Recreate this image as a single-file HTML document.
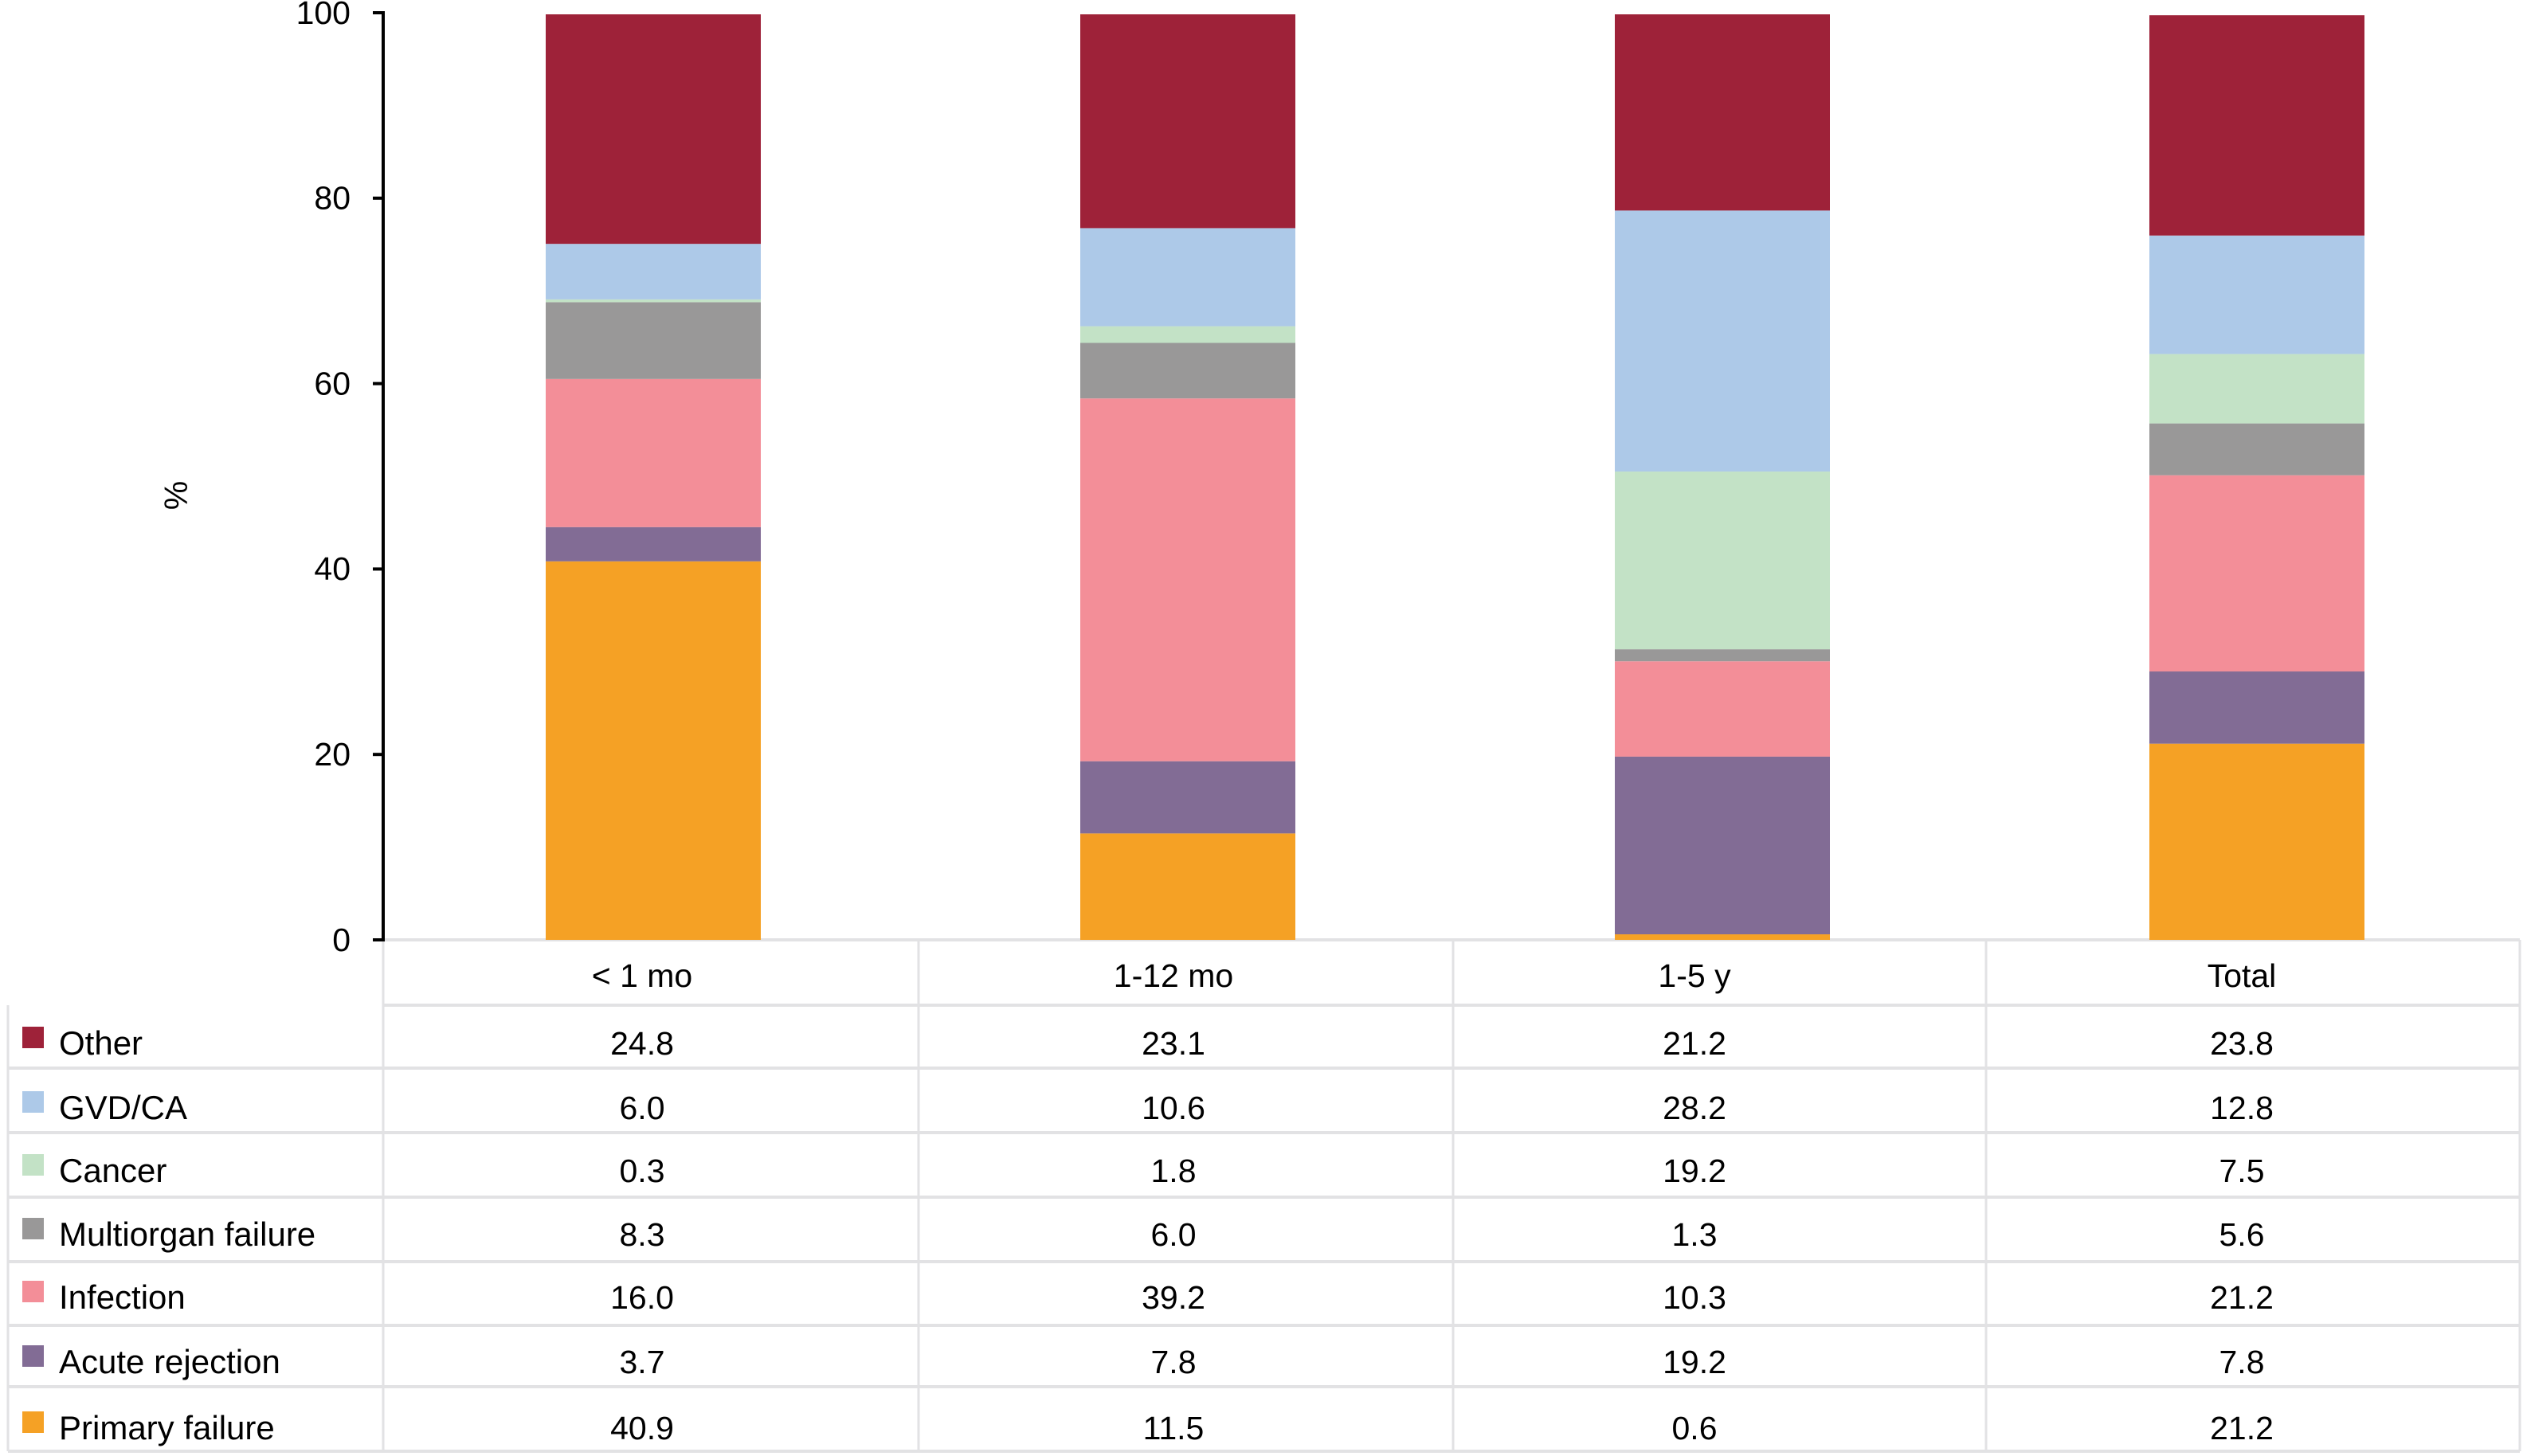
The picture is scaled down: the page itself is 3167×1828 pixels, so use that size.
<!DOCTYPE html>
<html><head><meta charset="utf-8">
<style>
html,body{margin:0;padding:0;background:#fff;}
svg{display:block;font-family:"Liberation Sans",sans-serif;}
</style></head>
<body>
<svg id="chart" width="3167" height="1828" viewBox="0 0 3167 1828" xmlns="http://www.w3.org/2000/svg">
<g id="table-grid"></g>
<g id="bars"></g>
<g id="axis"></g>
<g id="table"></g>
<text x="224" y="622" font-size="41" text-anchor="middle" dominant-baseline="middle" transform="rotate(-90 224 622)">%</text>
</svg>
<script>
const categories = ["< 1 mo", "1-12 mo", "1-5 y", "Total"];
const seriesNames = ["Other", "GVD/CA", "Cancer", "Multiorgan failure", "Infection", "Acute rejection", "Primary failure"];
const primaryFailure = [40.9, 11.5, 0.6, 21.2];
const acuteRejection = [3.7, 7.8, 19.2, 7.8];
const infection = [16.0, 39.2, 10.3, 21.2];
const multiorganFailure = [8.3, 6.0, 1.3, 5.6];
const cancer = [0.3, 1.8, 19.2, 7.5];
const gvdCa = [6.0, 10.6, 28.2, 12.8];
const other = [24.8, 23.1, 21.2, 23.8];
const yTicks = [0, 20, 40, 60, 80, 100];

const NS = "http://www.w3.org/2000/svg";
const series = [other, gvdCa, cancer, multiorganFailure, infection, acuteRejection, primaryFailure];
const colors = ["#9e2239", "#adc9e8", "#c3e2c6", "#999898", "#f38e98", "#826c95", "#f5a125"];
const slugs = ["other", "gvd-ca", "cancer", "multiorgan-failure", "infection", "acute-rejection", "primary-failure"];
const y0 = 1180, y100 = 18;
const yScale = v => y0 - (v / 100) * (y0 - y100);
const barX = i => 820 + 671 * i;
const textX = i => [806, 1473, 2127, 2814][i];
const barW = 270;

function mk(tag, attrs, parent) {
  const e = document.createElementNS(NS, tag);
  for (const k in attrs) e.setAttribute(k, attrs[k]);
  parent.appendChild(e);
  return e;
}

const bars = document.getElementById('bars');
categories.forEach((c, i) => {
  let acc = 0;
  for (let s = series.length - 1; s >= 0; s--) {
    const v = series[s][i];
    const top = yScale(acc + v), bot = yScale(acc);
    const r = mk('rect', {x: barX(i) - barW / 2, y: top, width: barW, height: Math.max(0, bot - top), fill: colors[s]}, bars);
    
    
    acc += v;
  }
});

const axis = document.getElementById('axis');
const al = mk('line', {x1: 481, y1: 16, x2: 481, y2: y0, stroke: '#000', 'stroke-width': 4}, axis);


yTicks.forEach(t => {
  const yy = y0 - (t / 100) * (y0 - 16);
  const tk = mk('line', {x1: 468, y1: yy, x2: 483, y2: yy, stroke: '#000', 'stroke-width': 4}, axis);
  
  
  const tl = mk('text', {x: 440, y: yy + 3, 'font-size': 41, 'text-anchor': 'end', 'dominant-baseline': 'middle'}, axis);
  tl.textContent = t;
  
  
});

const grid = document.getElementById('table-grid');
const rowLines = [1180, 1262, 1341, 1422, 1503, 1584, 1664, 1741, 1822];
rowLines.forEach((y, k) => {
  const ln = mk('line', {x1: k < 2 ? 481 : 10, y1: y, x2: 3163, y2: y, stroke: '#e2e2e4', 'stroke-width': 4}, grid);
  
  
});
[10, 481, 1153, 1824, 2493, 3163].forEach((x, k) => {
  const ln = mk('line', {x1: x, y1: k === 0 ? 1262 : 1180, x2: x, y2: 1822, stroke: '#e2e2e4', 'stroke-width': 3}, grid);
  
  
});

const table = document.getElementById('table');
categories.forEach((c, i) => {
  const t = mk('text', {x: textX(i), y: 1228, 'font-size': 41, 'text-anchor': 'middle', 'dominant-baseline': 'middle'}, table);
  t.textContent = c;
  
  
});
const rowY = [1313, 1394, 1473, 1553, 1632, 1713, 1796];
seriesNames.forEach((n, s) => {
  const sq = mk('rect', {x: 28, y: rowY[s] - 24, width: 27, height: 27, fill: colors[s]}, table);
  
  
  const lt = mk('text', {x: 74, y: rowY[s], 'font-size': 42, 'dominant-baseline': 'middle'}, table);
  lt.textContent = n;
  
  
  categories.forEach((c, i) => {
    const vt = mk('text', {x: textX(i), y: rowY[s], 'font-size': 41, 'text-anchor': 'middle', 'dominant-baseline': 'middle'}, table);
    vt.textContent = series[s][i].toFixed(1);
    
    
  });
});
</script>
</body></html>
